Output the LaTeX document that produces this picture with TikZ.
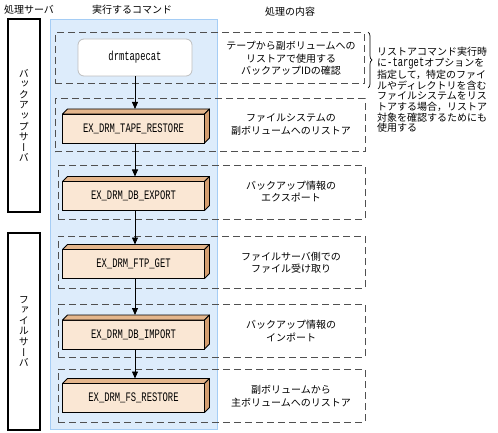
\documentclass[tikz,border=0pt]{standalone}
\usepackage{fontspec}
\usepackage{graphicx}
\usetikzlibrary{arrows.meta,decorations.pathreplacing,calc}
\setmainfont{Noto Sans CJK JP}
\newfontfamily\jpfont{Noto Sans CJK JP}
\newfontfamily\vjpfont[RawFeature=+vert]{Noto Sans CJK JP}
\newfontfamily\monofnt{Liberation Mono}
\newcommand\cmdtext[1]{\scalebox{0.68}[1]{\monofnt\fontsize{13}{13}\selectfont #1}}
\definecolor{bgblue}{RGB}{221,236,251}
\definecolor{bgedge}{RGB}{165,205,245}
\definecolor{peach}{RGB}{250,231,212}
\definecolor{tantop}{RGB}{228,182,140}
\definecolor{tanside}{RGB}{212,158,112}
\definecolor{dashgray}{RGB}{80,80,80}
\definecolor{roundedge}{RGB}{190,190,190}
\newcommand\threedfaces[1]{%
  \filldraw[draw=black,line width=0.8pt,fill=tantop,line join=round]
    (#1.north west) -- ++(5,-5) -- ($(#1.north east)+(5,-5)$) -- (#1.north east) -- cycle;
  \filldraw[draw=black,line width=0.8pt,fill=tanside,line join=round]
    (#1.north east) -- ++(5,-5) -- ($(#1.south east)+(5,-5)$) -- (#1.south east) -- cycle;}
\begin{document}
\begin{tikzpicture}[x=1pt,y=-1pt,
  font=\jpfont\fontsize{10}{12.5}\selectfont,
  srv/.style={draw=black,line width=1.6pt,fill=white,inner sep=0pt,minimum width=32pt},
  grp/.style={draw=dashgray,line width=1pt,dash pattern=on 7pt off 4pt,inner sep=0pt},
  cmdbox/.style={draw=black,line width=0.8pt,fill=peach,minimum width=142pt,minimum height=29pt,inner sep=0pt,outer sep=0pt},
  flow/.style={-{Triangle[length=7pt,width=6pt]},line width=0.8pt},
  desc/.style={align=center,inner sep=0pt,font=\jpfont\fontsize{10}{12.5}\selectfont},
  vtext/.style={align=center,inner sep=0pt,font=\vjpfont\fontsize{10}{10.6}\selectfont},
  head/.style={inner sep=0pt}]
\useasboundingbox (0,0) rectangle (498,433);

% headers
\node[head] (h1) at (29,10) {処理サーバ};
\node[head] (h2) at (132,10) {実行するコマンド};
\node[head] (h3) at (290,11.5) {処理の内容};

% server boxes
\node[srv,minimum height=193pt] (s1) at (24,115.5) {};
\node[vtext] (s1t) at (24,115.5) {バ\\ッ\\ク\\ア\\ッ\\プ\\サ\\ー\\バ};
\node[srv,minimum height=197pt] (s2) at (24,331.5) {};
\node[vtext] (s2t) at (24,331.5) {フ\\ァ\\イ\\ル\\サ\\ー\\バ};

% blue column
\node[draw=bgedge,fill=bgblue,line width=0.8pt,minimum width=167pt,minimum height=410pt,inner sep=0pt] (col) at (133.5,224) {};

% dashed groups
\node[grp,minimum width=309pt,minimum height=51pt] (g1) at (209.5,58.5) {};
\node[grp,minimum width=310pt,minimum height=53pt] (g2) at (210,125.5) {};
\node[grp,minimum width=307pt,minimum height=53pt] (g3) at (211.5,192.5) {};
\node[grp,minimum width=307pt,minimum height=52pt] (g4) at (211.5,262) {};
\node[grp,minimum width=307pt,minimum height=53pt] (g5) at (211.5,330.5) {};
\node[grp,minimum width=307pt,minimum height=53pt] (g6) at (211.5,395.5) {};

% command nodes
\node[draw=roundedge,fill=white,line width=0.8pt,rounded corners=6pt,minimum width=114pt,minimum height=37pt,inner sep=0pt] (d) at (135,57.5) {\cmdtext{drmtapecat}};
\node[cmdbox] (c1) at (133.5,128.5) {\cmdtext{EX\_DRM\_TAPE\_RESTORE}};
\threedfaces{c1}
\node[cmdbox] (c2) at (133.5,196) {\cmdtext{EX\_DRM\_DB\_EXPORT}};
\threedfaces{c2}
\node[cmdbox] (c3) at (133.5,264) {\cmdtext{EX\_DRM\_FTP\_GET}};
\threedfaces{c3}
\node[cmdbox] (c4) at (133.5,334.5) {\cmdtext{EX\_DRM\_DB\_IMPORT}};
\threedfaces{c4}
\node[cmdbox] (c5) at (133.5,398) {\cmdtext{EX\_DRM\_FS\_RESTORE}};
\threedfaces{c5}

% arrows
\draw[flow] (d.south) -- ([xshift=1.5pt,yshift=5pt]c1.north);
\draw[flow] ([xshift=1.5pt]c1.south) -- ([xshift=1.5pt,yshift=5pt]c2.north);
\draw[flow] ([xshift=1.5pt]c2.south) -- ([xshift=1.5pt,yshift=5pt]c3.north);
\draw[flow] ([xshift=1.5pt]c3.south) -- ([xshift=1.5pt,yshift=5pt]c4.north);
\draw[flow] ([xshift=1.5pt]c4.south) -- ([xshift=1.5pt,yshift=5pt]c5.north);

% descriptions
\node[desc] (t1) at (291,58.5) {テープから副ボリュームへの\\リストアで使用する\\バックアップIDの確認};
\node[desc] (t2) at (291,124.5) {ファイルシステムの\\副ボリュームへのリストア};
\node[desc] (t3) at (291,191.5) {バックアップ情報の\\エクスポート};
\node[desc] (t4) at (291,262.5) {ファイルサーバ側での\\ファイル受け取り};
\node[desc] (t5) at (291,331) {バックアップ情報の\\インポート};
\node[desc] (t6) at (291,396) {副ボリュームから\\主ボリュームへのリストア};

% brace and note
\coordinate (bt) at (368,32);
\coordinate (bb) at (368,88);
\draw[decorate,decoration={brace,amplitude=4pt},line width=0.7pt] (bt) -- (bb);
\node[anchor=north west,align=left,inner sep=0pt,font=\jpfont\fontsize{10}{10.7}\selectfont] (note) at (377,47)
  {リストアコマンド実行時\\に\cmdtext{-target}オプションを\\指定して，特定のファイ\\ルやディレクトリを含む\\ファイルシステムをリス\\トアする場合，リストア\\対象を確認するためにも\\使用する};
\end{tikzpicture}
\end{document}
